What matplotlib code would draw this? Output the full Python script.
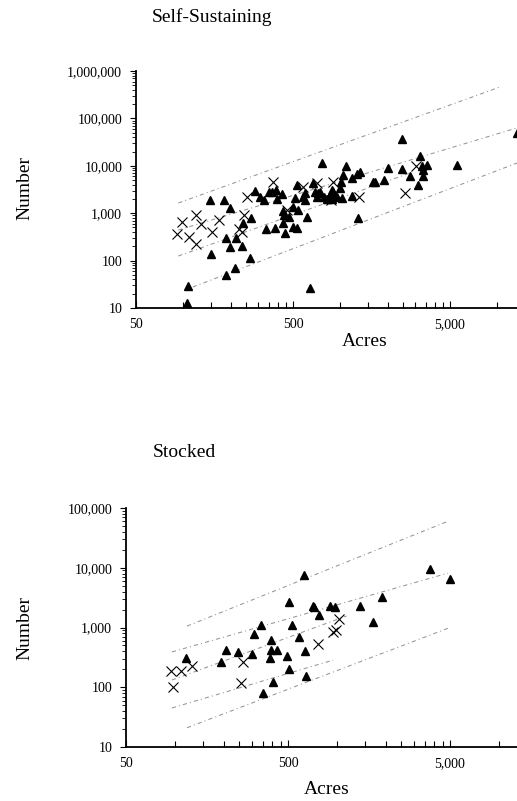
import matplotlib
matplotlib.use("Agg")
import matplotlib.pyplot as plt
import numpy as np
from matplotlib.ticker import FixedLocator, NullFormatter

plt.rcParams['font.family'] = ['Liberation Serif', 'DejaVu Serif']

# ---- Self-Sustaining panel ----
ss_tri_acres = [107, 106, 147, 182, 199, 150, 186, 199, 214, 187, 217, 236, 241, 266, 269,
                288, 308, 327, 335, 353, 369, 386, 394, 390, 428, 434, 430, 440, 445, 469,
                497, 515, 533, 536, 502, 527, 582, 596, 611, 674, 690, 725, 762, 788, 819,
                860, 903, 949, 996, 1047, 1082, 1007, 1183, 1183, 1285, 1336, 1303, 1625,
                1665, 1900, 2025, 2460, 2485, 2780, 3110, 3220, 3300, 3380, 3590, 3380,
                5510, 13300, 641, 840, 888, 1020, 743, 881, 596, 708]
ss_tri_number = [29, 13, 1900, 1900, 1270, 139, 307, 198, 70, 50, 307, 205, 634, 116, 807,
                 2940, 2230, 1900, 467, 2850, 2850, 482, 1960, 3080, 2500, 1135, 634, 920, 378, 820,
                 1377, 2060, 3940, 1170, 522, 482, 2230, 2630, 848, 4400, 2850, 2710, 11600, 2230, 1960,
                 2420, 2850, 2230, 3350, 6380, 10000, 4620, 5430, 2310, 6700, 7500, 782, 4620,
                 4620, 5000, 8810, 8380, 35900, 6080, 3940, 16000, 10000, 6080, 10400, 8200,
                 10400, 49700, 26, 1960, 1960, 2060, 2850, 3080, 1900, 2230]
ss_x_acres = [91, 98, 109, 121, 121, 130, 152, 170, 227, 245, 255, 238, 371, 873, 903,
              708, 582, 1315, 2580, 3030, 456]
ss_x_number = [366, 665, 312, 920, 225, 594, 397, 721, 459, 920, 2230, 397, 4480, 1900, 4620,
               4400, 3630, 2160, 2710, 10000, 1170]

# fitted lines: (acres start, acres end, number start, number end)
ss_lines = [
    (93, 10400, 1640, 459000),
    (93, 13360, 442, 63000),
    (93, 2780, 125, 7050),
    (115, 13360, 27.7, 11450),
]

# ---- Stocked panel ----
st_tri_acres = [117, 193, 206, 244, 301, 308, 341, 352, 393, 391, 387, 426, 402, 491, 505,
                532, 509, 582, 631, 634, 643, 717, 728, 780, 908, 975, 1390, 1667, 1912,
                3780, 5000]
st_tri_number = [312, 260, 419, 383, 354, 767, 1100, 79, 617, 419, 312, 419, 123, 333, 2640,
                 1100, 199, 684, 7600, 410, 157, 2300, 2200, 1600, 2300, 2200, 2300, 1250, 3290,
                 9460, 6420]
st_x_acres = [95, 97, 110, 128, 265, 256, 770, 953, 989, 1032]
st_x_number = [186, 102, 186, 229, 267, 120, 528, 829, 908, 1390]

st_lines = [
    (119, 4860, 1055, 60000),
    (96, 4860, 390, 8130),
    (96, 1150, 132, 1560),
    (96, 950, 45, 285),
    (119, 5000, 21, 1000),
]

W, H = 517, 801


def fx(x):
    return x / W


def fy(y):
    return 1 - y / H


def style_axes(ax, xmax, ymax, ylabels):
    ax.set_xscale('log')
    ax.set_yscale('log')
    ax.set_xlim(50, xmax)
    ax.set_ylim(10, ymax)
    for s in ['top', 'right']:
        ax.spines[s].set_visible(False)
    ax.spines['left'].set_linewidth(1.3)
    ax.spines['bottom'].set_linewidth(1.3)

    xmaj = [50, 500, 5000, 50000]
    ax.xaxis.set_major_locator(FixedLocator(xmaj))
    ax.set_xticklabels(['50', '500', '5,000', '50,000'])
    xmin = [50 * k * 10 ** n for n in range(0, 4) for k in range(2, 10)]
    ax.xaxis.set_minor_locator(FixedLocator(xmin))
    ax.xaxis.set_minor_formatter(NullFormatter())

    ymaj = [10 ** n for n in range(1, 7)]
    ax.yaxis.set_major_locator(FixedLocator(ymaj[:len(ylabels)]))
    ax.set_yticklabels(ylabels)
    ymin = [k * 10 ** n for n in range(1, 6) for k in range(2, 10)]
    ax.yaxis.set_minor_locator(FixedLocator(ymin))
    ax.yaxis.set_minor_formatter(NullFormatter())

    ax.tick_params(axis='x', which='major', direction='in', length=5, width=0.8,
                   labelsize=10, pad=7)
    ax.tick_params(axis='x', which='minor', direction='in', length=4, width=0.8)
    ax.tick_params(axis='y', which='major', direction='out', length=4, width=0.8,
                   labelsize=10, pad=6)
    ax.tick_params(axis='y', which='minor', direction='out', length=3, width=0.6)


def draw(ax, tri_x, tri_y, xx, xy, lines):
    for x0, x1, y0, y1 in lines:
        ax.plot([x0, x1], [y0, y1], color='#959595', lw=0.75,
                linestyle=(0, (4, 3, 1, 3)), zorder=1)
    ax.plot(tri_x, tri_y, linestyle='none', marker='^', ms=6, color='black',
            zorder=3, clip_on=False)
    ax.plot(xx, xy, linestyle='none', marker='x', ms=6.5, mew=0.8, color='black',
            zorder=3)


fig = plt.figure(figsize=(W / 100, H / 100), dpi=100)

ax1 = fig.add_axes([fx(136), fy(308), fx(517) - fx(136), fy(71) - fy(308)])
draw(ax1, ss_tri_acres, ss_tri_number, ss_x_acres, ss_x_number, ss_lines)
style_axes(ax1, 13360, 1e6, ['10', '100', '1,000', '10,000', '100,000', '1,000,000'])

ax2 = fig.add_axes([fx(126), fy(747), fx(517) - fx(126), fy(508) - fy(747)])
draw(ax2, st_tri_acres, st_tri_number, st_x_acres, st_x_number, st_lines)
style_axes(ax2, 12960, 1e5, ['10', '100', '1,000', '10,000', '100,000'])

fig.text(fx(152), fy(17), 'Self-Sustaining', fontsize=14, ha='left', va='center')
fig.text(fx(25), fy(188), 'Number', fontsize=14, rotation=90, ha='center', va='center')
fig.text(fx(365), fy(342), 'Acres', fontsize=14, ha='center', va='center')

fig.text(fx(153), fy(452), 'Stocked', fontsize=14, ha='left', va='center')
fig.text(fx(25), fy(628), 'Number', fontsize=14, rotation=90, ha='center', va='center')
fig.text(fx(327), fy(790), 'Acres', fontsize=14, ha='center', va='center')

fig.savefig('out.png', dpi=100)
